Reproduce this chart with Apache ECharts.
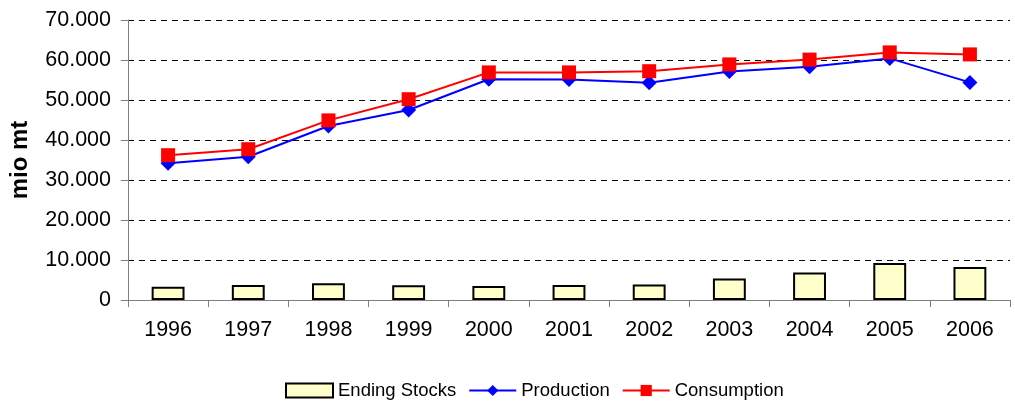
<!DOCTYPE html>
<html>
<head>
<meta charset="utf-8">
<script src="https://cdn.jsdelivr.net/npm/echarts@6/dist/echarts.min.js"></script>
<style>
  html, body { margin: 0; padding: 0; background: #fff; }
  #chart { width: 1015px; height: 405px; }
</style>
</head>
<body>
<div id="chart"></div>
<script>
const years = ["1996", "1997", "1998", "1999", "2000", "2001", "2002", "2003", "2004", "2005", "2006"];
const endingStocks = [3.3, 3.75, 4.2, 3.7, 3.5, 3.75, 3.9, 5.4, 6.9, 9.25, 8.25];
const production = [34.2, 35.8, 43.5, 47.5, 55.2, 55.1, 54.3, 57.1, 58.3, 60.4, 54.4];
const consumption = [36.2, 37.7, 44.9, 50.2, 56.9, 56.9, 57.2, 58.9, 60.1, 61.9, 61.4];

const font = "Liberation Sans, Arial, sans-serif";
const chart = echarts.init(document.getElementById("chart"));

chart.setOption({
  animation: false,
  textStyle: { fontFamily: font },
  grid: { left: 128, right: 5, top: 20, bottom: 105 },
  legend: {
    top: 381,
    left: 285,
    itemGap: 12,
    textStyle: { fontSize: 18.5, color: "#000", fontFamily: font, padding: [0, 0, 0, 0] },
    data: [
      { name: "Ending Stocks", icon: "rect", itemStyle: { color: "#ffffcc", borderColor: "#000", borderWidth: 2 } },
      { name: "Production" },
      { name: "Consumption" },
    ],
    itemWidth: 47,
    itemHeight: 14,
    padding: 0,
  },
  xAxis: {
    type: "category",
    data: years,
    axisLine: { lineStyle: { color: "#808080", width: 1 } },
    axisTick: { show: true, length: 7, lineStyle: { color: "#808080" } },
    axisLabel: { color: "#000", fontSize: 21.5, margin: 19, fontFamily: font },
  },
  yAxis: {
    type: "value",
    min: 0,
    max: 70,
    interval: 10,
    name: "mio mt",
    nameLocation: "middle",
    nameGap: 96,
    nameRotate: 90,
    nameTextStyle: { fontSize: 24, fontWeight: "bold", color: "#000", fontFamily: font },
    axisLine: { show: true, lineStyle: { color: "#808080", width: 1 } },
    axisTick: { show: true, length: 7, lineStyle: { color: "#808080" } },
    axisLabel: {
      color: "#000",
      fontSize: 21.5,
      margin: 17,
      fontFamily: font,
      formatter: (v) => (v === 0 ? "0" : v.toFixed(3)),
    },
    splitLine: { show: true, lineStyle: { color: "#000", type: [6, 5], width: 1 } },
  },
  series: [
    {
      name: "Ending Stocks",
      type: "bar",
      data: endingStocks,
      barWidth: "41%",
      itemStyle: { color: "#ffffcc", borderColor: "#000", borderWidth: 2 },
    },
    {
      name: "Production",
      type: "line",
      data: production,
      symbol: "diamond",
      symbolSize: 15,
      lineStyle: { color: "#0000ff", width: 2 },
      itemStyle: { color: "#0000ff" },
    },
    {
      name: "Consumption",
      type: "line",
      data: consumption,
      symbol: "rect",
      symbolSize: 14,
      lineStyle: { color: "#ff0000", width: 2 },
      itemStyle: { color: "#ff0000" },
    },
  ],
});
</script>
</body>
</html>
